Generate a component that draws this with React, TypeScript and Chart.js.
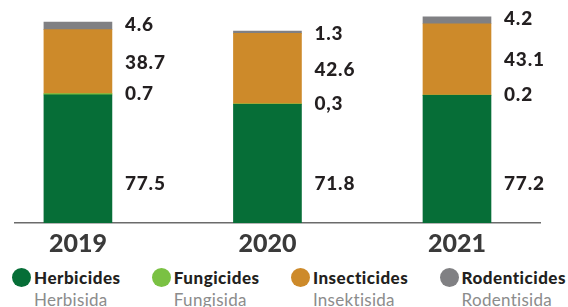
import React, { useEffect, useRef } from 'react';
import { Chart, registerables } from 'chart.js';

Chart.register(...registerables);

const years = ['2019', '2020', '2021'];
const herbicides = [77.5, 71.8, 77.2];
const fungicides = [0.7, 0.3, 0.2];
const insecticides = [38.7, 42.6, 43.1];
const rodenticides = [4.6, 1.3, 4.2];
const herbLabels = ['77.5', '71.8', '77.2'];
const fungiLabels = ['0.7', '0,3', '0.2'];
const insectLabels = ['38.7', '42.6', '43.1'];
const rodentLabels = ['4.6', '1.3', '4.2'];
const seriesNames = ['Herbicides', 'Fungicides', 'Insecticides', 'Rodenticides'];
const seriesNamesId = ['Herbisida', 'Fungisida', 'Insektisida', 'Rodentisida'];
const seriesColors = ['#066e37', '#7ac143', '#cd8a2a', '#808083'];
const seriesData = [herbicides, fungicides, insecticides, rodenticides];

const HERB_LABEL_VALUE = 24.5;
const FONT = 'Lato, "Open Sans", sans-serif';

const labelPlugin = {
  id: 'segLabels',
  afterDatasetsDraw(chart: any) {
    const ctx = chart.ctx;
    const y = chart.scales.y;
    const meta0 = chart.getDatasetMeta(0);
    ctx.save();
    ctx.font = `900 19px ${FONT}`;
    ctx.fillStyle = '#231f20';
    ctx.textBaseline = 'middle';
    ctx.textAlign = 'left';
    try { (ctx as any).letterSpacing = '0.8px'; } catch (e) {}
    years.forEach((_, i) => {
      const bar = meta0.data[i];
      const x = bar.x + bar.width / 2 + 13;
      const h = herbicides[i];
      const f = fungicides[i];
      const ins = insecticides[i];
      const r = rodenticides[i];
      const tot = h + f + ins + r;
      ctx.fillText(herbLabels[i], x, y.getPixelForValue(HERB_LABEL_VALUE) + 1);
      ctx.fillText(fungiLabels[i], x, y.getPixelForValue(h + f));
      ctx.fillText(insectLabels[i], x, y.getPixelForValue(h + f + ins / 2) + 1);
      ctx.fillText(rodentLabels[i], x, y.getPixelForValue(tot) + 2.5);
    });
    ctx.restore();
  },
};

export default function App() {
  const canvasRef = useRef<HTMLCanvasElement | null>(null);

  useEffect(() => {
    if (!canvasRef.current) return;
    const chart = new Chart(canvasRef.current, {
      type: 'bar',
      data: {
        labels: years,
        datasets: seriesNames.map((name, k) => ({
          label: name,
          data: seriesData[k],
          backgroundColor: seriesColors[k],
          borderWidth: 0,
          barThickness: 68,
          stack: 'all',
        })),
      },
      options: {
        animation: false,
        responsive: false,
        devicePixelRatio: 1,
        layout: { padding: { top: 8, left: 15, right: 28, bottom: 0 } },
        plugins: { legend: { display: false }, tooltip: { enabled: false } },
        scales: {
          x: {
            type: 'linear',
            offset: false,
            min: 2018.668,
            max: 2021.438,
            afterBuildTicks: (scale: any) => {
              scale.ticks = years.map((yr) => ({ value: Number(yr) }));
            },
            grid: { display: false, drawTicks: false, offset: false },
            border: { display: true, color: '#6b6b6b', width: 1.5 },
            ticks: {
              autoSkip: false,
              maxRotation: 0,
              padding: 6,
              color: '#3a3a3a',
              font: { family: FONT, size: 25, weight: '900' },
              callback: (v: any) => String(v),
            },
          },
          y: {
            display: false,
            stacked: true,
            min: 0,
            max: 130,
          },
        },
      },
      plugins: [labelPlugin],
    } as any);
    return () => chart.destroy();
  }, []);

  return (
    <div style={{ position: 'fixed', left: 0, top: 0, width: 568, height: 307, background: '#fff', overflow: 'hidden' }}>
      <canvas ref={canvasRef} width={568} height={265} style={{ display: 'block', width: 568, height: 265 }} />
      <div
        style={{
          position: 'absolute',
          top: 267,
          left: 12,
          width: 554,
          display: 'flex',
          justifyContent: 'space-between',
          fontFamily: FONT,
          fontSize: 17,
        }}
      >
        {seriesNames.map((name, k) => (
          <div key={name} style={{ display: 'flex', alignItems: 'flex-start' }}>
            <div
              style={{
                width: 19,
                height: 19,
                borderRadius: '50%',
                background: seriesColors[k],
                marginTop: 1,
                marginRight: 3,
                flex: '0 0 auto',
              }}
            />
            <div style={{ display: 'flex', flexDirection: 'column' }}>
              <span style={{ fontWeight: 900, color: '#231f20', lineHeight: '22px', letterSpacing: '0.5px' }}>{name}</span>
              <span style={{ fontWeight: 400, color: '#8c8c8c', lineHeight: '22px', letterSpacing: '0.3px' }}>{seriesNamesId[k]}</span>
            </div>
          </div>
        ))}
      </div>
    </div>
  );
}
